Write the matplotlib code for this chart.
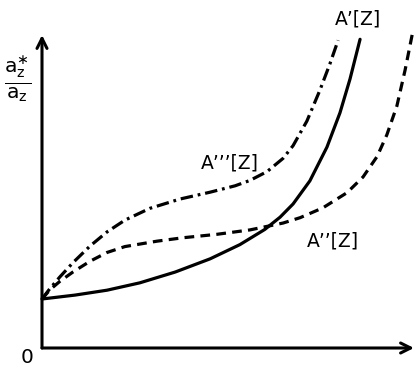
import matplotlib
matplotlib.use("Agg")
import matplotlib.pyplot as plt

plt.rcParams['font.family'] = ['DejaVu Sans']
plt.rcParams['mathtext.default'] = 'regular'
plt.rcParams['lines.scale_dashes'] = False

# curve values (x: 0..10, y: ratio, start at 1)
x_a1 = [0, 0.89, 1.75, 2.63, 3.58, 4.52, 5.32, 5.99, 6.40, 6.75, 7.20, 7.66, 8.01, 8.28, 8.55]
y_a1 = [1.0, 1.08, 1.18, 1.33, 1.55, 1.82, 2.11, 2.42, 2.67, 2.94, 3.41, 4.10, 4.80, 5.49, 6.30]

x_a3 = [0, 0.215, 0.48, 0.83, 1.29, 1.75, 2.23, 2.90, 3.71, 4.52, 5.19, 5.59, 6.05, 6.48, 6.75, 7.12, 7.47, 7.74, 7.96]
y_a3 = [1.0, 1.215, 1.45, 1.74, 2.08, 2.37, 2.61, 2.85, 3.04, 3.18, 3.31, 3.42, 3.60, 3.87, 4.13, 4.63, 5.26, 5.80, 6.28]

x_a2 = [0, 0.215, 0.48, 0.83, 1.29, 1.75, 2.23, 3.09, 3.79, 4.70, 5.59, 6.48, 6.94, 7.55, 8.20, 8.63, 9.01, 9.27, 9.54, 9.76, 9.95]
y_a2 = [1.0, 1.19, 1.36, 1.55, 1.77, 1.95, 2.07, 2.18, 2.25, 2.32, 2.41, 2.55, 2.66, 2.86, 3.17, 3.49, 3.91, 4.35, 4.94, 5.67, 6.39]

fig = plt.figure(figsize=(4.17, 3.70), dpi=100)
ax = fig.add_axes([42 / 417, 22 / 370, 372 / 417, 313 / 370])
ax.set_xlim(0, 10)
ax.set_ylim(0, 313 / 49)
ax.axis('off')

lw = 2.3
ax.plot(x_a1, y_a1, color='black', lw=lw, solid_joinstyle='round', solid_capstyle='round', clip_on=False)
ax.plot(x_a3, y_a3, color='black', lw=lw, linestyle=(0, (9, 3.5, 2, 3.5)), clip_on=False)
ax.plot(x_a2, y_a2, color='black', lw=lw, linestyle=(0, (7, 4.5)), clip_on=False)

# axes with arrows
arrow = dict(arrowstyle='->', lw=2.2, color='black', mutation_scale=18, shrinkA=0, shrinkB=0)
ax.annotate('', xy=(1, 0), xytext=(0, 0), xycoords='axes fraction', arrowprops=arrow, annotation_clip=False)
ax.annotate('', xy=(0, 1), xytext=(0, 0), xycoords='axes fraction', arrowprops=arrow, annotation_clip=False)

fs = 13.5
ax.text(8.5, 6.71, "A’[Z]", fontsize=fs, ha='center', va='center', clip_on=False)
ax.text(5.05, 3.78, "A’’’[Z]", fontsize=fs, ha='center', va='center')
ax.text(7.82, 2.18, "A’’[Z]", fontsize=fs, ha='center', va='center')
ax.text(-0.4, -0.2, "0", fontsize=fs + 1, ha='center', va='center', clip_on=False)
ax.text(-0.66, 5.5, r"$\frac{a_z^{\ast}}{a_z}$", fontsize=21, ha='center', va='center', clip_on=False)

fig.savefig("out.png", dpi=100)
